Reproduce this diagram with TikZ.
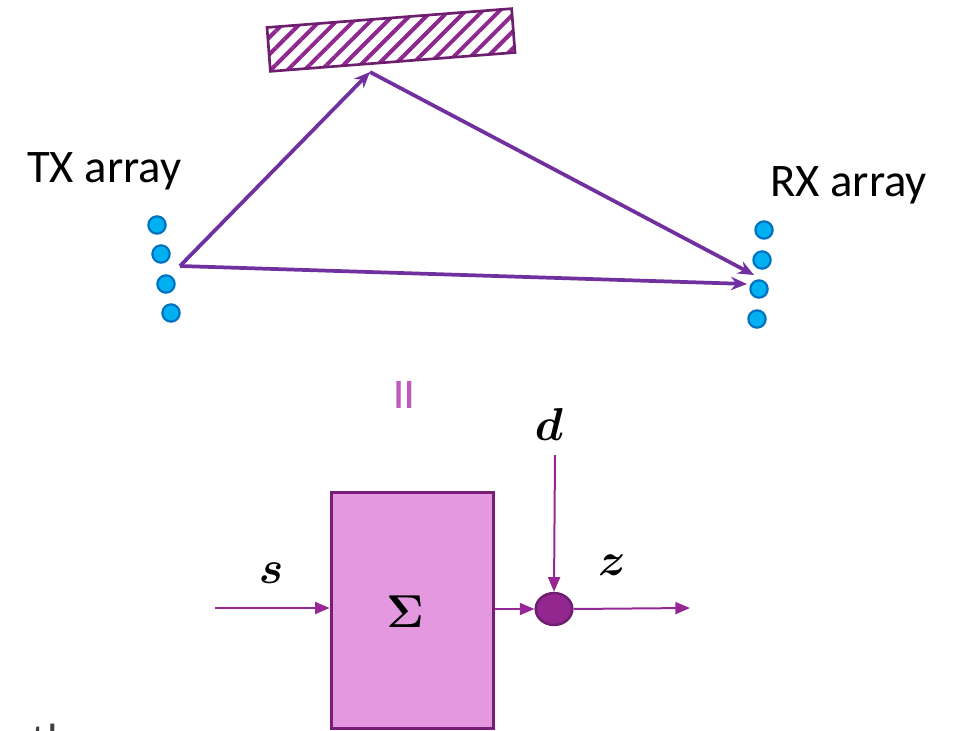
\documentclass[tikz,border=0pt]{standalone}
\usepackage{fontspec}
\setmainfont{Carlito}
\usepackage{amsmath,bm}
\usepackage{xcolor}
\definecolor{raypurple}{RGB}{112,48,160}
\definecolor{dotfill}{RGB}{0,176,240}
\definecolor{dotdraw}{RGB}{0,112,192}
\definecolor{hatch}{RGB}{142,40,142}
\definecolor{hatchborder}{RGB}{110,30,110}
\definecolor{blockfill}{RGB}{227,152,224}
\definecolor{blockborder}{RGB}{120,30,120}
\definecolor{sigpurple}{RGB}{150,40,150}
\definecolor{junction}{RGB}{147,39,143}
\definecolor{eqpurple}{RGB}{190,90,190}
\definecolor{pathgray}{RGB}{64,64,64}
\usepackage{tikz}
\usetikzlibrary{
    arrows.meta,
    patterns.meta,
    shapes.geometric,
    positioning
}

\begin{document}
\begin{tikzpicture}[
        x=0.75pt, y=-0.75pt,
        ray/.style={-{Stealth[length=12pt,width=10pt]}, line width=2.8pt, raypurple},
        sig/.style={-{Triangle[length=11pt,width=9pt]}, line width=1.5pt, sigpurple},
        antenna/.style={circle, draw=dotdraw, fill=dotfill, line width=1.6pt, minimum size=13pt, inner sep=0pt},
        arraylabel/.style={font=\fontsize{35}{40}\selectfont, text=black, inner sep=0pt},
        symlabel/.style={font=\LARGE, scale=2, inner sep=0pt}
    ]
        \useasboundingbox (0,0) rectangle (953,731);

        \node[draw=hatchborder, line width=2pt, pattern={Lines[angle=45,distance=9pt,line width=3pt]}, pattern color=hatch, minimum width=184pt, minimum height=33pt, inner sep=0pt, rotate=4.4] (reflector) at (391,40) {};

        \node[arraylabel, anchor=base west] (txlabel) at (27,183) {TX array};
        \node[arraylabel, anchor=base west] (rxlabel) at (770,197) {RX array};

        \node[antenna] (tx1) at (157,225) {};
        \node[antenna] (tx2) at (161,254) {};
        \node[antenna] (tx3) at (166,284) {};
        \node[antenna] (tx4) at (171,313) {};
        \node[antenna] (rx1) at (764,230) {};
        \node[antenna] (rx2) at (762,260) {};
        \node[antenna] (rx3) at (759,289) {};
        \node[antenna] (rx4) at (757,319) {};

        \coordinate (txfeed) at (180,266);
        \coordinate (bounce) at (370,72);
        \coordinate (rxhit1) at (754,275);
        \coordinate (rxhit2) at (747,284);

        \draw[ray] (txfeed) -- (bounce);
        \draw[ray] (bounce) -- (rxhit1);
        \draw[ray] (txfeed) -- (rxhit2);

        \node[rotate=90, text=eqpurple, font=\fontsize{50}{54}\selectfont, inner sep=0pt] (equiv) at (411,395) {=};

        \node[draw=blockborder, fill=blockfill, line width=2.2pt, minimum width=122pt, minimum height=177pt, inner sep=0pt] (channel) at (412.5,610.5) {};
        \node[symlabel] (sigma) at (405,612) {$\boldsymbol{\Sigma}$};
        \node[ellipse, draw=hatchborder, fill=junction, line width=1.8pt, minimum width=27.5pt, minimum height=24pt, inner sep=0pt] (sum) at (554,609) {};

        \coordinate (sin) at (215,608);
        \coordinate (din) at (555,455);
        \coordinate (zout) at (690,608);

        \node[symlabel] (slabel) at (271,573) {$\boldsymbol{s}$};
        \node[symlabel] (dlabel) at (549,424) {$\boldsymbol{d}$};
        \node[symlabel] (zlabel) at (612,565) {$\boldsymbol{z}$};

        \draw[sig] (sin) -- (channel.west |- sin);
        \draw[sig] (channel.east |- sum) -- (sum.west);
        \draw[sig] (din) -- (sum.north);
        \draw[sig] (sum.east) -- (zout);

        \node[arraylabel, anchor=base east, text=pathgray] (pathlabel) at (72,756) {path};
    \end{tikzpicture}
\end{document}
